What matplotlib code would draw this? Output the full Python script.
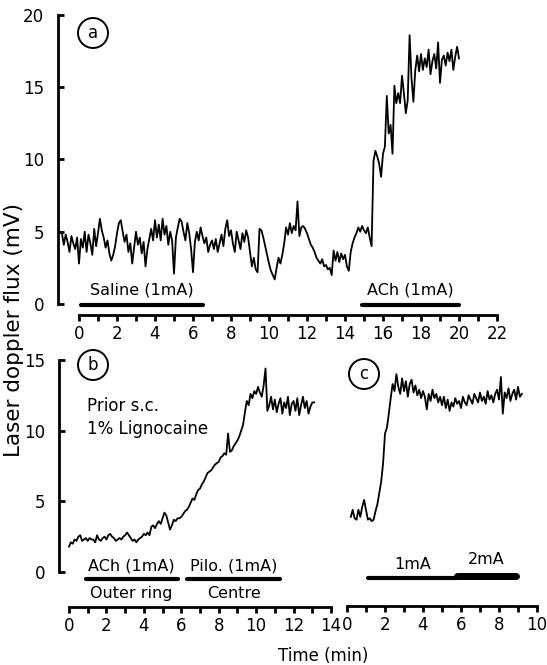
import matplotlib
matplotlib.use("Agg")
import matplotlib.pyplot as plt
from matplotlib.patches import Ellipse
import numpy as np

# ---- data (0.1 min steps) ----
# panel a: starts at -1.0 min, ends at 20.0 min
a_start = -1.0
a_flux = [
    5.0, 4.9, 4.1, 4.8, 4.3, 3.6, 4.7, 4.2, 3.8, 4.6,
    2.8, 4.5, 3.9, 5.0, 3.6, 4.8, 4.2, 3.4, 5.2, 4.0,
    4.9, 5.9, 5.1, 4.6, 3.9, 4.4, 3.5, 3.0, 3.4, 4.0,
    4.9, 5.6, 5.8, 5.0, 4.3, 4.8, 3.6, 4.2, 2.8, 3.9,
    5.0, 4.1, 4.6, 3.5, 4.3, 2.6, 3.8, 4.5, 5.2, 4.4,
    5.8, 4.6, 5.5, 4.4, 5.9, 4.8, 5.4, 4.1, 5.0, 4.4,
    2.1, 4.6, 5.3, 5.9, 5.7, 5.0, 4.4, 5.6, 4.9, 3.8,
    2.2, 4.3, 5.0, 4.4, 5.3, 4.7, 4.2, 4.6, 3.6, 4.1,
    4.4, 3.8, 4.5, 3.6, 4.2, 4.8, 4.0, 5.2, 5.8, 4.7,
    5.1, 4.2, 3.6, 5.0, 4.4, 3.8, 4.9, 4.3, 5.1, 4.6,
    3.6, 2.6, 3.2, 2.4, 2.2, 5.2, 5.1, 4.6, 4.0, 3.4,
    2.8, 2.3, 2.0, 1.7, 2.5, 3.2, 2.8, 3.4, 4.2, 5.3,
    4.8, 5.6, 4.9, 5.4, 5.1, 7.1, 4.7, 5.3, 5.4, 5.2,
    4.9, 4.5, 4.1, 3.9, 3.6, 3.2, 3.0, 2.8, 3.1, 2.6,
    2.7, 2.4, 2.5, 2.0, 3.7, 3.0, 3.6, 2.9, 3.5, 3.1,
    3.4, 2.6, 2.3, 3.6, 4.2, 4.6, 4.9, 5.3, 5.0, 5.4,
    5.1, 4.9, 5.3, 4.6, 4.0, 9.9, 10.6, 10.2, 9.7, 8.8,
    10.4, 10.9, 14.4, 11.8, 12.4, 10.4, 15.1, 13.9, 14.6, 13.9,
    15.8, 14.6, 13.2, 14.1, 18.6, 15.6, 14.0, 16.2, 17.2, 16.1,
    17.3, 16.2, 17.0, 16.4, 17.6, 15.9, 16.8, 17.3, 16.3, 18.1,
    15.3, 16.9, 17.2, 16.5, 17.4, 16.8, 17.6, 16.2, 17.1, 17.8,
    17.0,
]

# panel b: 0.0 to 13.1 min
b_start = 0.0
b_flux = [
    1.8, 2.1, 2.0, 2.3, 2.2, 2.5, 2.6, 2.2, 2.3, 2.4,
    2.2, 2.4, 2.3, 2.3, 2.1, 2.6, 2.3, 2.2, 2.4, 2.5,
    2.3, 2.6, 2.7, 2.5, 2.4, 2.2, 2.3, 2.4, 2.3, 2.5,
    2.6, 2.8, 2.6, 2.4, 2.2, 2.3, 2.1, 2.3, 2.4, 2.5,
    2.7, 2.6, 2.8, 2.6, 3.2, 3.3, 3.1, 3.4, 3.6, 3.4,
    3.8, 4.2, 4.0, 3.5, 3.0, 3.3, 3.7, 3.6, 3.8, 3.8,
    3.9, 4.1, 4.3, 4.4, 4.6, 4.9, 5.2, 5.1, 5.5, 5.8,
    5.9, 6.2, 6.4, 6.7, 7.0, 7.1, 7.2, 7.4, 7.6, 7.7,
    7.8, 8.1, 8.2, 8.4, 8.3, 9.8, 8.5, 8.6, 8.9, 9.1,
    9.3, 9.6, 10.0, 10.4, 11.3, 12.1, 11.8, 12.6, 12.3, 12.8,
    12.6, 13.1, 12.7, 12.4, 13.2, 14.4, 11.4, 11.8, 12.4, 11.5,
    12.2, 11.3, 11.9, 12.3, 11.2, 12.0, 11.6, 12.4, 11.1, 11.9,
    12.1, 11.4, 12.3, 11.1, 11.8, 12.4, 11.6, 12.1, 11.2, 11.7,
    12.0, 12.0,
]

# panel c: 0.2 to 9.2 min
c_start = 0.2
c_flux = [
    3.9, 4.4, 3.8, 3.7, 4.4, 3.9, 4.6, 5.1,
    4.4, 3.7, 3.8, 3.6, 3.7, 4.3, 4.8, 5.6, 6.4, 7.7,
    9.8, 10.2, 11.2, 12.3, 13.3, 12.8, 14.0, 13.1, 12.6, 13.7,
    12.8, 13.5, 12.4, 13.3, 13.6, 12.7, 13.2, 12.5, 12.9, 12.3,
    12.8, 12.4, 11.5, 12.6, 12.1, 12.9, 12.3, 12.6, 12.0, 12.4,
    11.8, 12.4, 11.6, 12.2, 11.4, 12.0, 11.7, 12.3, 11.9, 12.1,
    11.6, 12.4, 12.0, 11.8, 12.5, 12.2, 11.9, 12.6, 12.3, 12.0,
    12.7, 12.1, 12.4, 11.9, 12.8, 12.2, 12.5, 12.0, 12.6, 12.9,
    12.2, 13.8, 11.2, 12.7, 12.3, 13.0, 12.1, 12.6, 12.9, 12.2,
    13.1, 12.4, 12.6,
]

# stimulation periods (min)
a_saline = (0.1, 6.5)
a_ach = (14.9, 20.0)
b_ach = (0.9, 5.8)
b_pilo = (6.3, 11.3)
c_1ma = (1.1, 5.8)
c_2ma = (5.8, 8.9)

W, H = 547, 665
PT = 0.72  # points per pixel at dpi 100


def box(x0, x1, ytop, ybot):
    return [x0 / W, 1 - ybot / H, (x1 - x0) / W, (ybot - ytop) / H]


def style(ax, xmax, ymax, left_px, bottom_px, show_left=True):
    ax.patch.set_visible(False)
    ax.set_xlim(0, xmax)
    ax.set_ylim(0, ymax)
    for s in ["top", "right"]:
        ax.spines[s].set_visible(False)
    sp = ax.spines["bottom"]
    sp.set_position(("outward", bottom_px * PT))
    sp.set_bounds(0, xmax)
    sp.set_linewidth(2.0)
    sp.set_capstyle("projecting")
    ax.set_xticks(range(0, xmax + 1, 2))
    ax.set_xticks(range(0, xmax + 1), minor=True)
    ax.tick_params(axis="x", which="both", direction="out", length=4.5,
                   width=2.0, labelsize=12, pad=2.5)
    if show_left:
        sp = ax.spines["left"]
        sp.set_position(("outward", left_px * PT))
        sp.set_bounds(0, ymax)
        sp.set_linewidth(2.0)
        ax.set_yticks(range(0, ymax + 1, 5))
        ax.tick_params(axis="y", direction="in", length=4.5, width=2.0,
                       labelsize=12, pad=10)
    else:
        ax.spines["left"].set_visible(False)
        ax.tick_params(axis="y", left=False, labelleft=False)


def circ_label(x, y, s):
    fig.add_artist(Ellipse((x / W, 1 - y / H), 30 / W, 30 / H,
                           transform=fig.transFigure, fill=False,
                           lw=1.4, color="k"))
    fig.text(x / W, 1 - y / H, s, ha="center", va="center", fontsize=12)


def stim_bar(ax, span, y, lw=3.0):
    ax.plot(span, [y, y], color="k", lw=lw, solid_capstyle="round",
            clip_on=False)


fig = plt.figure(figsize=(W / 100, H / 100), dpi=100)

ax_a = fig.add_axes(box(79, 497, 15, 304))
ax_b = fig.add_axes(box(69, 331, 360, 572))
ax_c = fig.add_axes(box(347, 537, 360, 572))

style(ax_a, 22, 20, 21, 11)
style(ax_b, 14, 15, 10, 35)
style(ax_c, 10, 15, 0, 34, show_left=False)

# traces
t_a = a_start + 0.1 * np.arange(len(a_flux))
t_b = b_start + 0.1 * np.arange(len(b_flux))
t_c = c_start + 0.1 * np.arange(len(c_flux))
ax_a.plot(t_a, a_flux, color="k", lw=1.3, clip_on=False)
ax_b.plot(t_b, b_flux, color="k", lw=1.3, clip_on=False)
ax_c.plot(t_c, c_flux, color="k", lw=1.3, clip_on=False)

# panel a annotations
stim_bar(ax_a, a_saline, -0.1)
stim_bar(ax_a, a_ach, -0.1)
ax_a.text(sum(a_saline) / 2, 0.95, "Saline (1mA)", ha="center", va="center",
          fontsize=11.5)
ax_a.text(sum(a_ach) / 2, 0.95, "ACh (1mA)", ha="center", va="center",
          fontsize=11.5)

# panel b annotations
stim_bar(ax_b, b_ach, -0.5)
stim_bar(ax_b, b_pilo, -0.5)
ax_b.text(sum(b_ach) / 2, 0.45, "ACh (1mA)", ha="center", va="center",
          fontsize=11.5)
ax_b.text(sum(b_pilo) / 2, 0.45, "Pilo. (1mA)", ha="center", va="center",
          fontsize=11.5)
ax_b.text(sum(b_ach) / 2, -1.55, "Outer ring", ha="center", va="center",
          fontsize=11.5)
ax_b.text(sum(b_pilo) / 2, -1.55, "Centre", ha="center", va="center",
          fontsize=11.5)
fig.text(87 / W, 1 - 406 / H, "Prior s.c.", ha="left", va="center",
         fontsize=12)
fig.text(87 / W, 1 - 429 / H, "1% Lignocaine", ha="left", va="center",
         fontsize=12)

# panel c annotations
stim_bar(ax_c, c_1ma, -0.4, lw=3.0)
stim_bar(ax_c, c_2ma, -0.3, lw=5.0)
ax_c.text(sum(c_1ma) / 2, 0.5, "1mA", ha="center", va="center", fontsize=11.5)
ax_c.text(sum(c_2ma) / 2, 0.9, "2mA", ha="center", va="center", fontsize=11.5)

circ_label(93, 33, "a")
circ_label(93, 365, "b")
circ_label(364, 374, "c")

fig.text(14 / W, 1 - 330 / H, "Laser doppler flux (mV)", rotation=90,
         ha="center", va="center", fontsize=15.5)
fig.text(323 / W, 1 - 656 / H, "Time (min)", ha="center", va="center",
         fontsize=12)

fig.savefig("out.png", dpi=100)
